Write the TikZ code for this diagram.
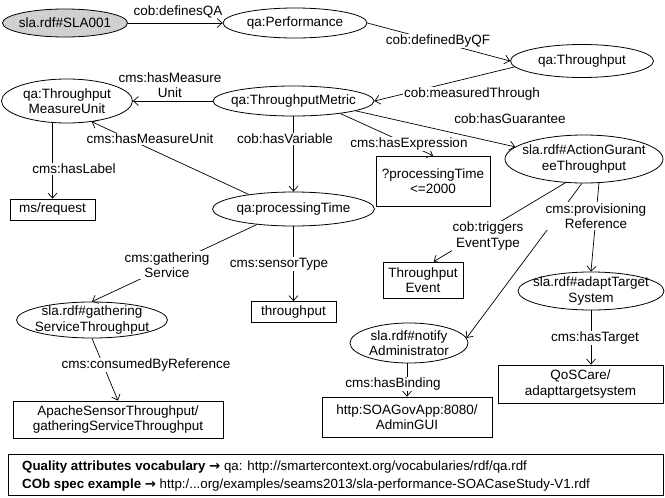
\documentclass[tikz,border=0pt]{standalone}
\usepackage{fontspec}
\setmainfont{Liberation Sans}
\newfontfamily\arrowfont{DejaVu Sans}
\usetikzlibrary{shapes.geometric,arrows.meta}
\definecolor{slagray}{RGB}{208,208,208}
\begin{document}
\begin{tikzpicture}[x=1pt,y=-1pt,
  every node/.style={font=\fontsize{13.5}{15.5}\selectfont},
  ell/.style={draw, ellipse, inner sep=0pt, line width=0.8pt},
  elltext/.style={inner sep=0pt, align=center},
  box/.style={draw, rectangle, inner sep=0pt, align=center, line width=0.8pt},
  conn/.style={draw, line width=0.7pt, -{Straight Barb[length=5pt,width=9pt]}},
  lab/.style={fill=white, inner sep=1pt, align=center},
  freelab/.style={inner sep=1pt, align=center},
]
\useasboundingbox (0,0) rectangle (665,498);

% ellipses
\node[ell, fill=slagray, minimum width=125pt, minimum height=28pt, label={[elltext]center:sla.rdf\#SLA001}] (sla) at (65,23) {};
\node[ell, minimum width=144pt, minimum height=30pt, label={[elltext]center:qa:Performance}] (perf) at (295,23) {};
\node[ell, minimum width=143pt, minimum height=33pt, label={[elltext]center:qa:Throughput}] (thr) at (582,61) {};
\node[ell, minimum width=161pt, minimum height=30pt, label={[elltext]center:qa:ThroughputMetric}] (metric) at (293.5,101) {};
\node[ell, minimum width=131pt, minimum height=44pt, label={[elltext]center:{qa:Throughput\\MeasureUnit}}] (mu) at (67,101) {};
\node[ell, minimum width=158pt, minimum height=48pt, label={[elltext]center:{sla.rdf\#ActionGurant\\eeThroughput}}] (act) at (584,159) {};
\node[ell, minimum width=162pt, minimum height=34pt, label={[elltext]center:qa:processingTime}] (pt) at (293.5,209) {};
\node[ell, minimum width=151pt, minimum height=36pt, label={[elltext]center:{sla.rdf\#gathering\\ServiceThroughput}}] (gst) at (92,320) {};
\node[ell, minimum width=146pt, minimum height=38pt, label={[elltext]center:{sla.rdf\#adaptTarget\\System}}] (ats) at (591,291) {};
\node[ell, minimum width=118pt, minimum height=40pt, label={[elltext]center:{sla.rdf\#notify\\Administrator}}] (na) at (409,343) {};

% boxes
\node[box, minimum width=114pt, minimum height=50pt] (expr) at (433,181) {?processingTime\\<=2000};
\node[box, minimum width=85pt, minimum height=21pt] (msreq) at (52.5,209.5) {ms/request};
\node[box, minimum width=85pt, minimum height=21pt] (tp) at (293.5,312) {throughput};
\node[box, minimum width=80pt, minimum height=36pt] (tev) at (423,280) {Throughput\\Event};
\node[box, minimum width=210pt, minimum height=37pt] (apache) at (118,419.5) {ApacheSensorThroughput/\\gatheringServiceThroughput};
\node[box, minimum width=165pt, minimum height=38pt] (qos) at (580.5,384) {QoSCare/\\adapttargetsystem};
\node[box, minimum width=170pt, minimum height=40pt] (http) at (407,417) {http:SOAGovApp:8080/\\AdminGUI};

% connectors
\draw[conn] (sla) -- (perf);
\draw[conn] (perf.east) -- (thr.west);
\draw[conn] (thr.185) -- (metric.east);
\draw[conn] (metric.west) -- (mu.east);
\draw[conn] (pt.162) -- (mu.-40);
\draw[conn] (mu.south -| msreq.north) -- (msreq.north);
\draw[conn] (metric.south) -- (pt.north);
\draw[conn] (metric.-15) -- (expr.north);
\draw[conn] (metric.-9) -- (act.170);
\draw[conn] (pt.203) -- (gst.north);
\draw[conn] (pt.south) -- (tp.north);
\draw[conn] (gst.south) -- (apache.north);
\draw[conn] (act.232) -- (tev.60);
\draw[conn] (act.-58) -- (ats.north);
\draw[conn] (act.-95) -- (na.5);
\draw[conn] (ats.south) -- (ats.south |- qos.north);
\draw[conn] (http.north |- na.south) -- (http.north);

% connector labels
\node[freelab] (l1) at (178,12) {cob:definesQA};
\node[lab] (l2) at (438,41) {cob:definedByQF};
\node[lab] (l3) at (472,94) {cob:measuredThrough};
\node[freelab] (l4) at (510,119) {cob:hasGuarantee};
\node[freelab] (l5) at (170,85) {cms:hasMeasure\\Unit};
\node[lab] (l6) at (150,139) {cms:hasMeasureUnit};
\node[lab] (l7) at (285,139) {cob:hasVariable};
\node[lab] (l8) at (409,144) {cms:hasExpression};
\node[lab] (l9) at (74,169) {cms:hasLabel};
\node[lab] (l10) at (167,265) {cms:gathering\\Service};
\node[lab] (l11) at (279,264) {cms:sensorType};
\node[lab] (l12) at (488,236) {cob:triggers\\EventType};
\node[lab] (l13) at (596,216) {cms:provisioning\\Reference};
\node[lab] (l14) at (146,365) {cms:consumedByReference};
\node[lab] (l15) at (595,338) {cms:hasTarget};
\node[lab] (l16) at (393,384) {cms:hasBinding};

% legend
\node[draw, line width=1pt, minimum width=655pt, minimum height=41pt, inner sep=0pt] (legend) at (335.5,474.5) {};
\node[anchor=west, align=left, inner sep=0pt, font=\fontsize{13.3}{18}\selectfont] (legtext) at (22,476)
  {\textbf{Quality attributes vocabulary} {\arrowfont\bfseries →} qa: http://smartercontext.org/vocabularies/rdf/qa.rdf\\
   \textbf{COb spec example} {\arrowfont\bfseries →} http:/...org/examples/seams2013/sla-performance-SOACaseStudy-V1.rdf};
\end{tikzpicture}
\end{document}
